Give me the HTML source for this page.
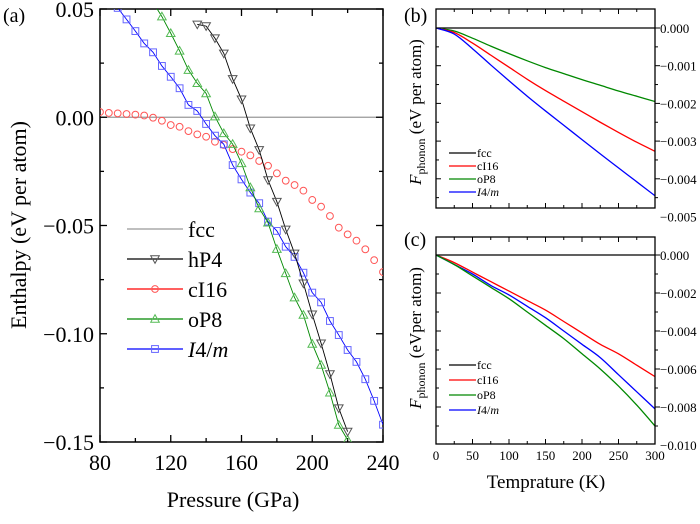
<!DOCTYPE html>
<html><head><meta charset="utf-8"><style>
body{margin:0;background:#fff}
svg, svg text, svg tspan{font-family:"Liberation Serif","Times New Roman","DejaVu Serif",serif !important}
</style></head><body>
<svg id="fig" width="700" height="519" viewBox="0 0 700 519" style='font-family:"Liberation Serif","Times New Roman",serif'>
<defs>
<clipPath id="ca"><rect x="100" y="9" width="283" height="433"/></clipPath>
<clipPath id="cb"><rect x="436" y="9" width="219" height="199"/></clipPath>
<clipPath id="cc"><rect x="436" y="237" width="219" height="207"/></clipPath>
</defs>
<g id="pa"></g>
<g id="pb"></g>
<g id="pc"></g>
<text x="3" y="22" font-size="20">(a)</text>
<text x="404" y="22" font-size="20">(b)</text>
<text x="404" y="246" font-size="20">(c)</text>
<text transform="translate(26,225) rotate(-90)" text-anchor="middle" font-size="22">Enthalpy (eV per atom)</text>
<text x="233" y="507" text-anchor="middle" font-size="22">Pressure (GPa)</text>
<text transform="translate(421,112) rotate(-90)" text-anchor="middle" font-size="17"><tspan font-style="italic">F</tspan><tspan font-size="12" dy="4">phonon</tspan><tspan dy="-4"> (eV per atom)</tspan></text>
<text transform="translate(421,338) rotate(-90)" text-anchor="middle" font-size="17"><tspan font-style="italic">F</tspan><tspan font-size="12" dy="4">phonon</tspan><tspan dy="-4"> (eVper atom)</tspan></text>
<text x="546" y="488" text-anchor="middle" font-size="19">Temprature (K)</text>
</svg>
<script>
// Panel (a) data
const pressA = [80,85,90,95,100,105,110,115,120,125,130,135,140,145,150,155,160,165,170,175,180,185,190,195,200,205,210,215,220,225,230,235,240];
const cI16 = [0.0024,0.002,0.0018,0.0015,0.0012,0.0008,-0.0002,-0.0016,-0.0036,-0.0044,-0.0064,-0.0079,-0.009,-0.0113,-0.0128,-0.0147,-0.0159,-0.0176,-0.0202,-0.0224,-0.0259,-0.0293,-0.0313,-0.0339,-0.0382,-0.0413,-0.0456,-0.051,-0.0541,-0.057,-0.061,-0.066,-0.0715];
const pressI4m = [90,95,100,105,110,115,120,125,130,135,140,145,150,155,160,165,170,175,180,185,190,195,200,205,210,215,220,225,230,235,240];
const I4m = [0.0505,0.0452,0.0398,0.0341,0.030,0.0237,0.0187,0.0134,0.0057,0.0029,-0.0031,-0.0085,-0.0125,-0.0221,-0.0287,-0.0348,-0.0397,-0.0482,-0.0525,-0.0598,-0.0645,-0.0718,-0.081,-0.0855,-0.0941,-0.1006,-0.1075,-0.113,-0.121,-0.131,-0.142];
const pressOP8 = [110,115,120,125,130,135,140,145,150,155,160,165,170,175,180,185,190,195,200,205,210,215,220];
const oP8 = [0.053,0.0465,0.0388,0.0307,0.0218,0.0157,0.011,0.0003,-0.0074,-0.0124,-0.0213,-0.0324,-0.0421,-0.0487,-0.0609,-0.0721,-0.0833,-0.0913,-0.1047,-0.1144,-0.1272,-0.1421,-0.149];
const pressHP4 = [135,140,145,150,155,160,165,170,175,180,185,190,195,200,205,210,215,220];
const hP4 = [0.0429,0.0421,0.0365,0.0295,0.0177,0.0083,-0.0051,-0.0151,-0.029,-0.039,-0.0518,-0.0629,-0.0767,-0.091,-0.1044,-0.1186,-0.1344,-0.1452];
const xTicksA = [80,120,160,200,240];
const yTicksA = [0.05,0.00,-0.05,-0.10,-0.15];
const yTickLabelsA = ["0.05","0.00","\u22120.05","\u22120.10","\u22120.15"];
// Panels (b),(c) data
const temps = [0,25,50,75,100,125,150,175,200,225,250,275,300];
const bCI16 = [0,-0.00012,-0.0004,-0.00072,-0.00104,-0.00136,-0.00166,-0.00194,-0.00222,-0.0025,-0.00277,-0.00303,-0.00327];
const bOP8 = [0,-0.00008,-0.00027,-0.00048,-0.00068,-0.00087,-0.00105,-0.00121,-0.00137,-0.00152,-0.00167,-0.00181,-0.00195];
const bI4m = [0,-0.00016,-0.00055,-0.00098,-0.0014,-0.00181,-0.0022,-0.00258,-0.00296,-0.00334,-0.00371,-0.00408,-0.00445];
const cCI16 = [0,-0.0004,-0.0009,-0.0014,-0.0019,-0.0024,-0.0029,-0.0035,-0.0041,-0.0047,-0.0052,-0.0058,-0.0064];
const cOP8 = [0,-0.0005,-0.0011,-0.0017,-0.0023,-0.003,-0.0037,-0.0044,-0.0052,-0.006,-0.0069,-0.0079,-0.009];
const cI4m = [0,-0.0005,-0.001,-0.0016,-0.0021,-0.0027,-0.0033,-0.004,-0.0047,-0.0054,-0.0063,-0.0072,-0.0081];
const tTicks = [0,50,100,150,200,250,300];
const bTicks = [0,-0.001,-0.002,-0.003,-0.004,-0.005];
const bTickLabels = ["0.000","\u22120.001","\u22120.002","\u22120.003","\u22120.004","\u22120.005"];
const cTicks = [0,-0.002,-0.004,-0.006,-0.008,-0.010];
const cTickLabels = ["0.000","\u22120.002","\u22120.004","\u22120.006","\u22120.008","\u22120.010"];

const NS="http://www.w3.org/2000/svg";
function mk(tag,attrs,parent){const e=document.createElementNS(NS,tag);for(const k in attrs)e.setAttribute(k,attrs[k]);parent.appendChild(e);return e;}

// Axis functions
const xA=p=>100+(p-80)*(283/160);
const yA=v=>117.25-v*2165;
const xT=t=>436+t*(219/300);
const yB=v=>28-v*37700;
const yC=v=>255-v*19000;

function smooth(pts){
 let d='M'+pts[0][0]+','+pts[0][1];
 for(let i=0;i<pts.length-1;i++){
  const p0=pts[Math.max(0,i-1)],p1=pts[i],p2=pts[i+1],p3=pts[Math.min(pts.length-1,i+2)];
  const c1x=p1[0]+(p2[0]-p0[0])/6,c1y=p1[1]+(p2[1]-p0[1])/6;
  const c2x=p2[0]-(p3[0]-p1[0])/6,c2y=p2[1]-(p3[1]-p1[1])/6;
  d+=` C${c1x},${c1y} ${c2x},${c2y} ${p2[0]},${p2[1]}`;
 }
 return d;
}

// ---------- Panel A ----------
const pa=document.getElementById('pa');
const fccA=mk('line',{x1:100,y1:yA(0),x2:383,y2:yA(0),stroke:'#999','stroke-width':1.3},pa);


const frame=mk('rect',{x:100,y:9,width:283,height:433,fill:'none',stroke:'#000','stroke-width':1.5},pa);


for(let p=80;p<=240;p+=20){const maj=(p%40===0);const L=maj?7:4;
 mk('line',{x1:xA(p),y1:442,x2:xA(p),y2:442-L,stroke:'#000','stroke-width':1.3},pa);
 mk('line',{x1:xA(p),y1:9,x2:xA(p),y2:9+L,stroke:'#000','stroke-width':1.3},pa);}
for(let i=0;i<=8;i++){const v=0.05-i*0.025;const maj=(i%2===0);const L=maj?7:4;
 mk('line',{x1:100,y1:yA(v),x2:100+L,y2:yA(v),stroke:'#000','stroke-width':1.3},pa);
 mk('line',{x1:383,y1:yA(v),x2:383-L,y2:yA(v),stroke:'#000','stroke-width':1.3},pa);}
xTicksA.forEach(p=>{const t=mk('text',{x:xA(p),y:470,'text-anchor':'middle','font-size':22},pa);t.textContent=p;
 
 });
yTicksA.forEach((v,i)=>{const t=mk('text',{x:94,y:yA(v)+8,'text-anchor':'end','font-size':22},pa);t.textContent=yTickLabelsA[i];
 
 });

function marker(kind,x,y,col,g){
 if(kind==='o')return mk('circle',{cx:x,cy:y,r:3.4,fill:'none',stroke:col,'stroke-width':1},g);
 if(kind==='s')return mk('rect',{x:x-3.4,y:y-3.4,width:6.8,height:6.8,fill:'none',stroke:col,'stroke-width':1},g);
 if(kind==='^')return mk('polygon',{points:`${x},${y-4.3} ${x-4.3},${y+3.3} ${x+4.3},${y+3.3}`,fill:'none',stroke:col,'stroke-width':1},g);
 if(kind==='v')return mk('polygon',{points:`${x},${y+4.3} ${x-4.3},${y-3.3} ${x+4.3},${y-3.3}`,fill:'none',stroke:col,'stroke-width':1},g);
}
function seriesA(xs,ys,col,kind,name,line){
 const g=mk('g',{'clip-path':'url(#ca)'},pa);
 
 
 if(line){const pl=mk('polyline',{points:xs.map((p,i)=>xA(p)+','+yA(ys[i])).join(' '),fill:'none',stroke:line,'stroke-width':0.9},g);
  
  }
 xs.forEach((p,i)=>{const m=marker(kind,xA(p),yA(ys[i]),col,g);
  
  });
}
seriesA(pressA,cI16,'#f55','o','ci16',null);
seriesA(pressI4m,I4m,'#66f','s','i4m','#00f');
seriesA(pressOP8,oP8,'#5b5','^','op8','#080');
seriesA(pressHP4,hP4,'#555','v','hp4','#000');

// legend A
const legA=[['fcc','#999',null,null],['hP4','#000','v','#555'],['cI16','#f00','o','#f55'],['oP8','#080','^','#5b5'],['I4/m','#00f','s','#66f']];
const lg=mk('g',{},pa);


legA.forEach((e,i)=>{const y=229+i*30;
 const it=mk('g',{},lg);
 
 
 mk('rect',{x:126,y:y-10,width:60,height:20,fill:'#fff'},it);
 mk('line',{x1:127,y1:y,x2:183,y2:y,stroke:e[1],'stroke-width':1.3},it);
 if(e[2])marker(e[2],155,y,e[3],it);
 const t=mk('text',{x:188,y:y+8,'font-size':22},it);
 if(e[0]==='I4/m'){t.innerHTML='<tspan font-style="italic">I</tspan>4/<tspan font-style="italic">m</tspan>';}else t.textContent=e[0];
});

// ---------- Panels B, C ----------
function panel(gid,top,bot,yf,ticks,labels,series,clip,showX){
 const g=document.getElementById(gid);
 const fcc=mk('line',{x1:436,y1:yf(0),x2:655,y2:yf(0),stroke:'#000','stroke-width':1.3},g);
 
 
 series.forEach(s=>{const pl=mk('path',{d:smooth(temps.map((t,i)=>[xT(t),yf(s[0][i])])),fill:'none',stroke:s[1],'stroke-width':1.3,'clip-path':`url(#${clip})`},g);
  
  });
 const fr=mk('rect',{x:436,y:top,width:219,height:bot-top,fill:'none',stroke:'#000','stroke-width':1.3},g);
 
 
 for(let t=0;t<=300;t+=25){const L=(t%50===0)?5:3;
  mk('line',{x1:xT(t),y1:bot,x2:xT(t),y2:bot-L,stroke:'#000'},g);
  mk('line',{x1:xT(t),y1:top,x2:xT(t),y2:top+L,stroke:'#000'},g);}
 for(let i=0;i<ticks.length;i++){[ticks[i],i<ticks.length-1?(ticks[i]+ticks[i+1])/2:null].forEach((v,j)=>{
  if(v===null)return;const y=yf(v);if(y<top||y>bot)return;const L=j===0?5:3;
  mk('line',{x1:436,y1:y,x2:436+L,y2:y,stroke:'#000'},g);
  mk('line',{x1:655,y1:y,x2:655+L,y2:y,stroke:'#000'},g);});}
 ticks.forEach((v,i)=>{const t=mk('text',{x:660,y:yf(v)+5,'font-size':13},g);t.textContent=labels[i];
  
  });
 if(showX)tTicks.forEach(v=>{const t=mk('text',{x:xT(v),y:460,'text-anchor':'middle','font-size':13},g);t.textContent=v;
  
  });
}
panel('pb',9,208,yB,bTicks,bTickLabels,[[bOP8,'#080','op8'],[bCI16,'#f00','ci16'],[bI4m,'#00f','i4m']],'cb',false);
panel('pc',237,444,yC,cTicks,cTickLabels,[[cCI16,'#f00','ci16'],[cI4m,'#00f','i4m'],[cOP8,'#080','op8']],'cc',true);

function smallLegend(gid,y0,dy){
 const g=document.getElementById(gid);
 const lg=mk('g',{},g);
 
 
 [['fcc','#000'],['cI16','#f00'],['oP8','#080'],['I4/m','#00f']].forEach((e,i)=>{const y=y0+i*dy;
  const it=mk('g',{},lg);
  
  
  mk('line',{x1:449,y1:y,x2:476,y2:y,stroke:e[1],'stroke-width':1.3},it);
  const t=mk('text',{x:477,y:y+4,'font-size':12},it);
  if(e[0]==='I4/m')t.innerHTML='<tspan font-style="italic">I</tspan>4/<tspan font-style="italic">m</tspan>';else t.textContent=e[0];});
}
smallLegend('pb',153,13);
smallLegend('pc',365,15);
</script>
</body></html>
